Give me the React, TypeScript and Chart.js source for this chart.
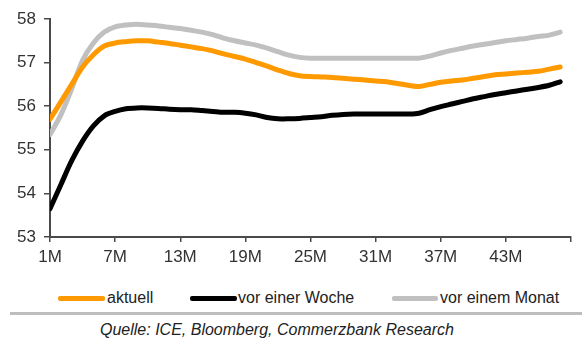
import React, { useEffect, useRef } from "react";
import { Chart, registerables } from "chart.js";

Chart.register(...registerables);

const months = [
  1, 2, 3, 4, 5, 6, 7, 8, 9, 10, 11, 12, 13, 14, 15, 16, 17, 18, 19, 20, 21, 22, 23, 24,
  25, 26, 27, 28, 29, 30, 31, 32, 33, 34, 35, 36, 37, 38, 39, 40, 41, 42, 43, 44, 45, 46, 47, 48,
];

const aktuell = [
  55.7, 56.1, 56.5, 56.9, 57.18, 57.38, 57.45, 57.48, 57.5, 57.5, 57.47, 57.44,
  57.4, 57.36, 57.32, 57.27, 57.2, 57.14, 57.08, 57.0, 56.92, 56.83, 56.75, 56.7,
  56.68, 56.67, 56.66, 56.64, 56.62, 56.6, 56.58, 56.56, 56.52, 56.48, 56.45, 56.5,
  56.55, 56.58, 56.6, 56.64, 56.68, 56.72, 56.74, 56.76, 56.78, 56.8, 56.85, 56.9,
];

const vorEinerWoche = [
  53.65, 54.2, 54.75, 55.2, 55.55, 55.78, 55.88, 55.94, 55.96, 55.96, 55.95, 55.93,
  55.92, 55.92, 55.9, 55.88, 55.86, 55.86, 55.84, 55.8, 55.74, 55.71, 55.71, 55.72,
  55.74, 55.76, 55.79, 55.81, 55.82, 55.82, 55.82, 55.82, 55.82, 55.82, 55.84, 55.92,
  55.99, 56.05, 56.11, 56.17, 56.22, 56.27, 56.31, 56.35, 56.39, 56.43, 56.48, 56.56,
];

const vorEinemMonat = [
  55.35, 55.8, 56.4, 57.05, 57.45, 57.7, 57.82, 57.86, 57.88, 57.86, 57.84, 57.81,
  57.78, 57.74, 57.7, 57.64, 57.56, 57.5, 57.45, 57.4, 57.33, 57.25, 57.17, 57.12,
  57.1, 57.1, 57.1, 57.1, 57.1, 57.1, 57.1, 57.1, 57.1, 57.1, 57.1, 57.15,
  57.22, 57.28, 57.33, 57.38, 57.42, 57.46, 57.5, 57.53, 57.56, 57.6, 57.63, 57.7,
];

const seriesNames = ["aktuell", "vor einer Woche", "vor einem Monat"];
const seriesColors = ["#FF9900", "#000000", "#C0C0C0"];
const yTicks = [53, 54, 55, 56, 57, 58];
const sourceText = "Quelle: ICE, Bloomberg, Commerzbank Research";

const AXIS_COLOR = "#4a4a4a";
const TEXT_COLOR = "#333333";
const FONT = "'Liberation Sans', Arial, sans-serif";

export default function App() {
  const canvasRef = useRef<HTMLCanvasElement | null>(null);

  useEffect(() => {
    if (!canvasRef.current) return;
    const allSeries = [aktuell, vorEinerWoche, vorEinemMonat];
    const chart = new Chart(canvasRef.current, {
      type: "line",
      data: {
        datasets: allSeries.map((s, i) => ({
          label: seriesNames[i],
          data: s.map((v, j) => ({ x: months[j], y: v })),
          borderColor: seriesColors[i],
          backgroundColor: seriesColors[i],
          borderWidth: 5,
          pointRadius: 0,
          tension: 0.3,
          borderCapStyle: "round" as const,
          borderJoinStyle: "round" as const,
          fill: false,
          order: i === 2 ? 3 : i === 0 ? 1 : 2,
        })),
      },
      options: {
        responsive: false,
        animation: false,
        layout: { padding: { top: 19, right: 11, left: 0, bottom: 0 } },
        plugins: {
          legend: { display: false },
          tooltip: { enabled: false },
        },
        scales: {
          x: {
            type: "linear",
            min: 1,
            max: 49,
            ticks: {
              stepSize: 6,
              autoSkip: false,
              maxRotation: 0,
              padding: 5,
              color: TEXT_COLOR,
              font: { family: FONT, size: 17 },
              callback: (v: any) => (Number(v) === 49 ? "" : `${v}M`),
            },
            grid: {
              display: true,
              drawOnChartArea: false,
              drawTicks: true,
              tickLength: 5,
              color: AXIS_COLOR,
              lineWidth: 1.5,
            },
            border: { display: true, color: AXIS_COLOR, width: 2 },
            afterFit: (scale: any) => {
              scale.height = 43;
            },
          },
          y: {
            type: "linear",
            min: yTicks[0],
            max: yTicks[yTicks.length - 1],
            afterBuildTicks: (scale: any) => {
              scale.ticks = yTicks.map((v) => ({ value: v }));
            },
            ticks: {
              stepSize: 1,
              padding: 8,
              color: TEXT_COLOR,
              font: { family: FONT, size: 17 },
            },
            grid: {
              display: true,
              drawOnChartArea: false,
              drawTicks: true,
              tickLength: 6,
              color: AXIS_COLOR,
              lineWidth: 1.5,
            },
            border: { display: true, color: AXIS_COLOR, width: 2 },
            afterFit: (scale: any) => {
              scale.width = 50;
            },
          },
        },
      },
    });
    return () => chart.destroy();
  }, []);

  const legendItems = [
    { lineLeft: 58, lineWidth: 47, textLeft: 107 },
    { lineLeft: 190, lineWidth: 47, textLeft: 238 },
    { lineLeft: 392, lineWidth: 46, textLeft: 440 },
  ];

  return (
    <div
      style={{
        position: "absolute",
        left: 0,
        top: 0,
        width: 582,
        height: 342,
        background: "#ffffff",
        overflow: "hidden",
        fontFamily: FONT,
      }}
    >
      <canvas
        ref={canvasRef}
        width={582}
        height={280}
        style={{ position: "absolute", left: 0, top: 0, width: 582, height: 280 }}
      />
      {legendItems.map((it, i) => (
        <React.Fragment key={i}>
          <div
            style={{
              position: "absolute",
              left: it.lineLeft,
              top: 296,
              width: it.lineWidth,
              height: 5,
              borderRadius: 2,
              background: seriesColors[i],
            }}
          />
          <div
            style={{
              position: "absolute",
              left: it.textLeft,
              top: 289,
              height: 18,
              lineHeight: "18px",
              fontSize: 16,
              color: "#222",
              whiteSpace: "nowrap",
            }}
          >
            {seriesNames[i]}
          </div>
        </React.Fragment>
      ))}
      <div
        style={{
          position: "absolute",
          left: 10,
          top: 312,
          width: 572,
          height: 3,
          background: "#bdbdbd",
        }}
      />
      <div
        style={{
          position: "absolute",
          left: 100,
          top: 321,
          height: 18,
          lineHeight: "18px",
          fontSize: 16,
          fontStyle: "italic",
          color: "#222",
          whiteSpace: "nowrap",
        }}
      >
        {sourceText}
      </div>
    </div>
  );
}
